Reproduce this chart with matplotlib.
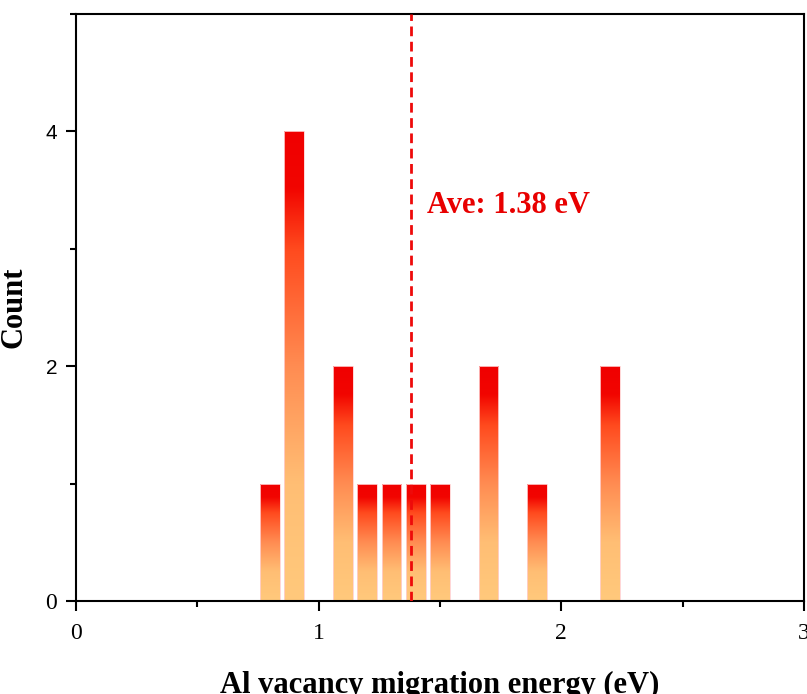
import numpy as np
import matplotlib
matplotlib.use("Agg")
import matplotlib.pyplot as plt
from matplotlib.colors import LinearSegmentedColormap
from matplotlib.ticker import MultipleLocator

# histogram bins (bin centre in eV) and counts
energy = [0.8, 0.9, 1.1, 1.2, 1.3, 1.4, 1.5, 1.7, 1.9, 2.2]
count = [1, 4, 2, 1, 1, 1, 1, 2, 1, 2]
ave = 1.38
yticks = [0, 2, 4]

plt.rcParams['font.family'] = ['Liberation Serif', 'DejaVu Serif']

# light orange at bottom -> red at top
cmap = LinearSegmentedColormap.from_list(
    "grad",
    [(0.0, "#FFC97C"), (0.25, "#FFBE74"), (0.5, "#FF8C52"),
     (0.75, "#FF4A1E"), (0.88, "#F20500"), (1.0, "#F00000")])

fig = plt.figure(figsize=(8.07, 6.94), dpi=100)
ax = fig.add_axes([0.0942, 0.134, 0.902, 0.846])

width = 0.082
grad = np.linspace(0, 1, 256).reshape(-1, 1)
bars = ax.bar(energy, count, width=width, color="none",
              edgecolor="#FFD0D0", linewidth=0.6, zorder=2)
for b in bars:
    x0 = b.get_x()
    h = b.get_height()
    im = ax.imshow(grad, cmap=cmap, origin="lower", aspect="auto",
                   extent=[x0, x0 + width, 0, h], zorder=1)
    im.set_clip_path(b)

ax.axvline(ave, color="#EE0A0A", linestyle=(0, (3.5, 2)), linewidth=2, zorder=3)
ax.text(1.445, 3.37, "Ave: %.2f eV" % ave, color="#E80000", fontsize=22,
        fontweight="bold", va="center", ha="left")

ax.set_xlim(0, 3)
ax.set_ylim(0, 5)
ax.xaxis.set_major_locator(MultipleLocator(1))
ax.xaxis.set_minor_locator(MultipleLocator(0.5))
ax.yaxis.set_minor_locator(MultipleLocator(1))
ax.set_yticks(yticks)
ax.tick_params(which="major", direction="out", length=7.5, width=1.5,
               labelsize=17, top=False, right=False)
ax.tick_params(axis="x", which="major", pad=8)
ax.tick_params(axis="y", which="major", pad=6)
ax.tick_params(which="minor", direction="out", length=4.5, width=1.5,
               top=False, right=False)
# the 2 and 4 on the y axis look like a sans face in the original
for lab, v in zip(ax.get_yticklabels(), yticks):
    if v != 0:
        lab.set_fontfamily("Liberation Sans")
        lab.set_fontsize(15)
for s in ax.spines.values():
    s.set_linewidth(1.5)

ax.set_xlabel("Al vacancy migration energy (eV)", fontsize=22,
              fontweight="bold", labelpad=20)
ax.set_ylabel("Count", fontsize=22, fontweight="bold", labelpad=12)

fig.savefig("out.png", dpi=100)
